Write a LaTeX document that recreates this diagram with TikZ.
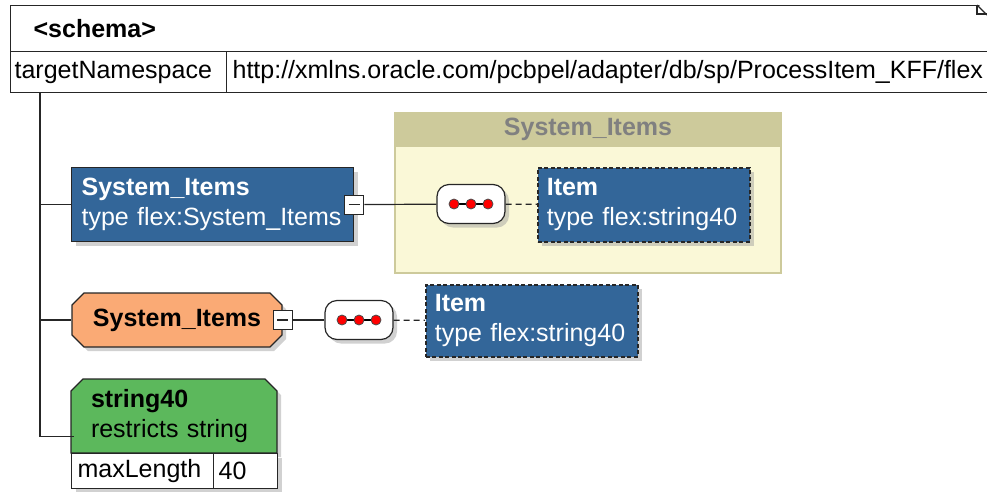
\documentclass[tikz,border=0pt]{standalone}
\usepackage{fontspec}
\setmainfont{Liberation Sans}
\usetikzlibrary{positioning, calc, shapes.misc, shadows}

\definecolor{elemblue}{RGB}{51,102,153}
\definecolor{typeorange}{RGB}{250,170,117}
\definecolor{simplegreen}{RGB}{92,184,92}
\definecolor{groupfill}{RGB}{250,248,215}
\definecolor{grouphead}{RGB}{205,202,155}
\definecolor{grouptext}{RGB}{128,128,128}

\newcommand{\xsdfont}{\fontsize{25}{30}\selectfont}

%	three red dots of a sequence
\newcommand{\seqdots}[1]{
	\draw[line width = 1.4pt] ([xshift = -17]#1.center) -- ([xshift = 17]#1.center);
	\foreach \dx in {-17, 0, 17}
		\fill[red, draw = black!70, line width = .8pt] ([xshift = \dx]#1.center) circle (5pt);
}

\tikzset{
	boxshadow/.style = {drop shadow = {shadow xshift = 4pt, shadow yshift = -4pt, fill = black!40, opacity = .45}},
	box/.style = {draw = black!85, line width = 1.2pt, anchor = north west, inner sep = 0pt, font = \xsdfont},
	cell/.style = {box, fill = white, align = left},
	elem/.style = {box, boxshadow, fill = elemblue, text = white, align = left},
	item/.style = {elem, line width = 1.6pt, dash pattern = on 4pt off 2.5pt},
	chamf/.style = {box, anchor = center, boxshadow, chamfered rectangle, chamfered rectangle xsep = 6pt, chamfered rectangle ysep = 6pt},
	expand/.style = {draw = black!85, fill = white, line width = 1.2pt, minimum size = 19, inner sep = 0pt,
		path picture = {\draw[line width = 1.6pt] ([xshift = 4]path picture bounding box.west) -- ([xshift = -4]path picture bounding box.east);}},
	seq/.style = {draw = black!85, fill = white, line width = 1.2pt, rounded corners = 12, minimum width = 68, minimum height = 39, boxshadow},
	conn/.style = {line width = 1.2pt, black!85},
}

\begin{document}
\begin{tikzpicture}[x = 1pt, y = -1pt]
	\useasboundingbox (0, 0) rectangle (987, 491);
	\clip (0, 0) rectangle (987, 491);
	
	%	schema header
	\node[cell, boxshadow, minimum width = 982, minimum height = 46, text width = 936] (schema) at (10, 5) {\textbf{<schema>}};
	\node[cell, minimum width = 216, minimum height = 41, text width = 208] (tns) at (10, 51) {targetNamespace};
	\node[cell, minimum width = 766, minimum height = 41, text width = 754] (url) at (226, 51) {http://xmlns.oracle.com/pcbpel/adapter/db/sp/ProcessItem\_KFF/flex};
	\fill[white] (977, 3) -- (992, 3) -- (992, 18) -- cycle;
	\draw[conn] (977, 5) -- (977, 14) -- (987, 14);
	\draw[conn] (977, 5) -- (987, 15);
	
	%	group System_Items
	\node[box, fill = groupfill, draw = grouphead, line width = 2pt, minimum width = 386, minimum height = 160] (grp) at (394, 112) {};
	\node[box, fill = grouphead, draw = grouphead, line width = 2pt, minimum width = 386, minimum height = 33,
		font = \xsdfont\bfseries, text = grouptext] (grpHead) at (394, 112) {System\_Items};
	
	%	element System_Items
	\node[elem, minimum width = 282, minimum height = 74, text width = 262] (siElem) at (71, 167) {\textbf{System\_Items}\\type flex:System\_Items};
	\node[expand] (siExp) at (siElem.east) {};
	\node[seq] (seqA) at (471, 204) {};
	\seqdots{seqA}
	\node[item, minimum width = 212, minimum height = 74, text width = 194] (itemA) at (537, 167) {\textbf{Item}\\type flex:string40};
	
	%	complex type System_Items
	\node[chamf, fill = typeorange, minimum width = 210, minimum height = 54] (stType) at (177, 320) {\textbf{System\_Items}};
	\node[expand] (stExp) at (stType.east) {};
	\node[seq] (seqB) at (359, 320) {};
	\seqdots{seqB}
	\node[item, minimum width = 212, minimum height = 72, text width = 194] (itemB) at (425, 284) {\textbf{Item}\\type flex:string40};
	
	%	simple type string40
	\node[chamf, chamfered rectangle corners = {north west, north east}, fill = simplegreen, align = left,
		minimum width = 206, minimum height = 74, text width = 166] (strType) at (174, 416) {\textbf{string40}\\restricts string};
	\node[cell, boxshadow, minimum width = 142, minimum height = 35, text width = 130] (maxLen) at (71, 453) {maxLength};
	\node[cell, boxshadow, minimum width = 64, minimum height = 35, text width = 54] (maxVal) at (213, 453) {40};
	
	%	connectors
	\coordinate (trunkTop) at ([xshift = 30]tns.south west);
	\draw[conn] (trunkTop) |- ($(strType.north west)!.5!(maxLen.south west)$);
	\draw[conn] (trunkTop |- siElem.west) -- (siElem.west);
	\draw[conn] (trunkTop |- stType.west) -- (stType.west);
	\draw[conn] (siExp) -- (seqA);
	\draw[conn, dash pattern = on 6pt off 4pt] (seqA) -- (itemA);
	\draw[conn] (stExp) -- (seqB);
	\draw[conn, dash pattern = on 6pt off 4pt] (seqB) -- (itemB);
\end{tikzpicture}
\end{document}
